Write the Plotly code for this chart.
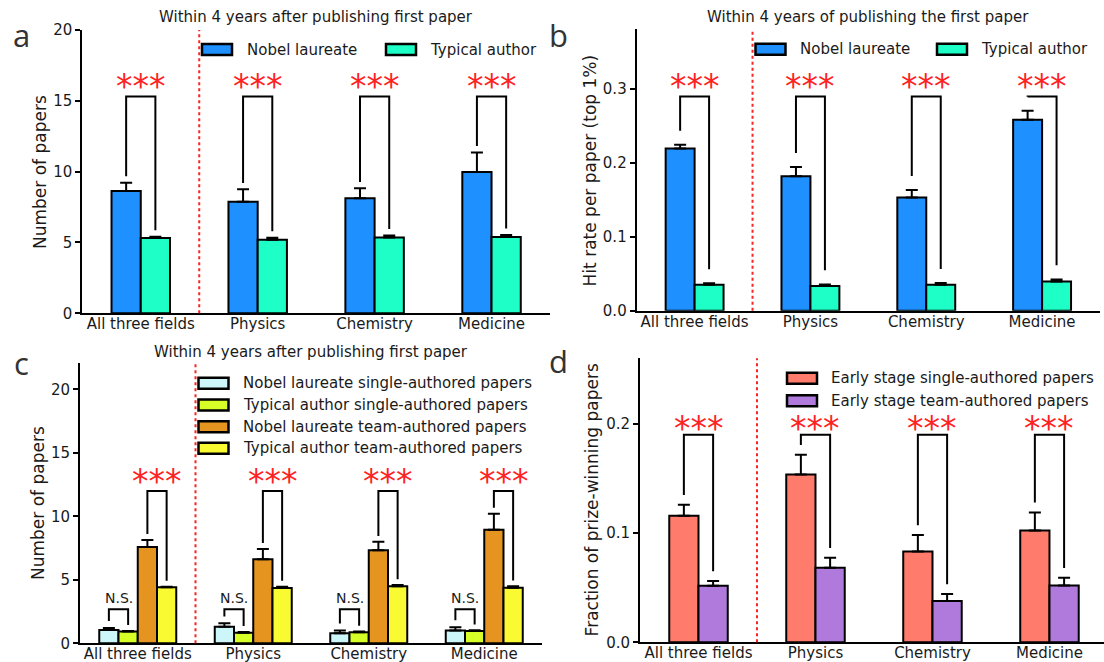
import plotly.graph_objects as go

W, H = 1104, 662

categories = ["All three fields", "Physics", "Chemistry", "Medicine"]

# Panel a: number of papers within 4 years
a_nobel = [8.64, 7.88, 8.12, 9.98]
a_nobel_err = [0.58, 0.87, 0.70, 1.38]
a_typical = [5.32, 5.20, 5.36, 5.39]
a_typical_err = [0.09, 0.14, 0.14, 0.14]

# Panel b: hit rate per paper (top 1%)
b_nobel = [0.2197, 0.1822, 0.1534, 0.2585]
b_nobel_err = [0.0049, 0.0122, 0.0099, 0.0121]
b_typical = [0.0352, 0.0334, 0.0352, 0.0397]
b_typical_err = [0.0018, 0.0022, 0.0022, 0.0027]

# Panel c: single vs team authored
c_nl_single = [1.05, 1.31, 0.79, 1.00]
c_nl_single_err = [0.15, 0.26, 0.21, 0.26]
c_ta_single = [0.92, 0.84, 0.87, 0.97]
c_ta_single_err = [0.05, 0.05, 0.05, 0.05]
c_nl_team = [7.59, 6.61, 7.32, 8.95]
c_nl_team_err = [0.55, 0.82, 0.68, 1.26]
c_ta_team = [4.41, 4.36, 4.49, 4.38]
c_ta_team_err = [0.05, 0.10, 0.10, 0.11]

# Panel d: fraction of prize-winning papers
d_single = [0.1159, 0.1537, 0.0832, 0.1024]
d_single_err = [0.0100, 0.0179, 0.0150, 0.0165]
d_team = [0.0518, 0.0683, 0.0378, 0.0521]
d_team_err = [0.0043, 0.0091, 0.0064, 0.0070]

titles = ["Within 4 years after publishing first paper",
          "Within 4 years of publishing the first paper",
          "Within 4 years after publishing first paper"]
ylabels = ["Number of papers", "Hit rate per paper (top 1%)",
           "Number of papers", "Fraction of prize-winning papers"]

FONT = "DejaVu Sans"
TXT = "#1a1a1a"
BLUE = "#1E90FF"
MINT = "#1DFFC6"
CYAN = "#CDF6FB"
LIME = "#D5FF26"
ORANGE = "#E59420"
YELLOW = "#FAFA32"
SALMON = "#FF7B6B"
PURPLE = "#AF7ADC"
RED = "#FF2222"


def px(x):
    return x / W


def py(y):
    return 1 - y / H


# axis geometry (pixels)
geo = {
    "a": dict(x0=82.3, x1=550, y0=313.3, y1=30.0, yr=[0, 20], xr=[-0.5, 3.5]),
    "b": dict(x0=636.7, x1=1100, y0=310.7, y1=29.3, yr=[0, 0.381], xr=[-0.5, 3.5]),
    "c": dict(x0=80, x1=542, y0=643.3, y1=362.7, yr=[0, 22.1], xr=[-0.5, 3.5]),
    "d": dict(x0=640, x1=1104, y0=642.3, y1=358.3, yr=[0, 0.26], xr=[-0.5, 3.466]),
}
names = {"a": ("x", "y"), "b": ("x2", "y2"), "c": ("x3", "y3"), "d": ("x4", "y4")}

fig = go.Figure()
xs = list(range(len(categories)))


def add_bars(panel, vals, errs, color, width, offset):
    xa, ya = names[panel]
    fig.add_trace(go.Bar(
        x=xs, y=vals, width=width, offset=offset,
        marker=dict(color=color, line=dict(color="black", width=2)),
        error_y=dict(type="data", array=errs, arrayminus=[0] * len(errs), symmetric=False,
                     color="black", thickness=2, width=6),
        xaxis=xa, yaxis=ya, showlegend=False, hoverinfo="skip"))


add_bars("a", a_nobel, a_nobel_err, BLUE, 0.25, -0.25)
add_bars("a", a_typical, a_typical_err, MINT, 0.25, 0.0)
add_bars("b", b_nobel, b_nobel_err, BLUE, 0.25, -0.25)
add_bars("b", b_typical, b_typical_err, MINT, 0.25, 0.0)
w6 = 1 / 6
add_bars("c", c_nl_single, c_nl_single_err, CYAN, w6, -2 * w6)
add_bars("c", c_ta_single, c_ta_single_err, LIME, w6, -w6)
add_bars("c", c_nl_team, c_nl_team_err, ORANGE, w6, 0.0)
add_bars("c", c_ta_team, c_ta_team_err, YELLOW, w6, w6)
add_bars("d", d_single, d_single_err, SALMON, 0.25, -0.25)
add_bars("d", d_team, d_team_err, PURPLE, 0.25, 0.0)

shapes = []
annotations = []

# axes layout
layout = dict(template="none", width=W, height=H, margin=dict(l=0, r=0, t=0, b=0, pad=0),
              plot_bgcolor="white", paper_bgcolor="white", barmode="overlay",
              font=dict(family=FONT, color=TXT))
ytick_cfg = {
    "a": dict(tickvals=[0, 5, 10, 15, 20], ticktext=["0", "5", "10", "15", "20"]),
    "b": dict(tickvals=[0, 0.1, 0.2, 0.3], ticktext=["0.0", "0.1", "0.2", "0.3"]),
    "c": dict(tickvals=[0, 5, 10, 15, 20], ticktext=["0", "5", "10", "15", "20"]),
    "d": dict(tickvals=[0, 0.1, 0.2], ticktext=["0.0", "0.1", "0.2"]),
}
for i, p in enumerate(["a", "b", "c", "d"]):
    g = geo[p]
    sx = "" if i == 0 else str(i + 1)
    layout["xaxis" + sx] = dict(
        domain=[px(g["x0"]), px(g["x1"])], range=g["xr"], anchor="y" + sx,
        tickvals=xs, ticktext=categories, ticks="", showline=True, linecolor="black",
        linewidth=2, showgrid=False, zeroline=False, fixedrange=True, automargin=False,
        ticklabelstandoff=-4,
        tickfont=dict(size=15, family=FONT, color=TXT))
    layout["yaxis" + sx] = dict(
        domain=[py(g["y0"]), py(g["y1"])], range=g["yr"], anchor="x" + sx,
        ticks="outside", ticklen=5, tickwidth=2, tickcolor="black",
        showline=True, linecolor="black", linewidth=2, showgrid=False, zeroline=False,
        fixedrange=True, automargin=False,
        tickfont=dict(size=15, family=FONT, color=TXT), **ytick_cfg[p])
    xa, ya = names[p]
    # red dotted separator
    shapes.append(dict(type="line", xref=xa, yref=ya + " domain", x0=0.5, x1=0.5, y0=0, y1=1,
                       line=dict(color=RED, width=2, dash="dot")))


def bracket(panel, xl, xr, bl, br, top, label, label_y, star=True):
    xa, ya = names[panel]
    shapes.append(dict(type="path", xref=xa, yref=ya,
                       path=f"M {xl} {bl} L {xl} {top} L {xr} {top} L {xr} {br}",
                       line=dict(color="black", width=2)))
    if star:
        annotations.append(dict(xref=xa, yref=ya, x=(xl + xr) / 2, y=label_y, text=label,
                                showarrow=False, yanchor="middle", yshift=-5,
                                font=dict(size=33, family=FONT, color=RED)))
    else:
        annotations.append(dict(xref=xa, yref=ya, x=(xl + xr) / 2, y=label_y, text=label,
                                showarrow=False, yanchor="middle",
                                font=dict(size=14, family=FONT, color=TXT)))


for k in xs:
    bracket("a", k - 0.125, k + 0.125, a_nobel[k] + a_nobel_err[k] + 0.45,
            a_typical[k] + a_typical_err[k] + 0.45, 15.3, "***", 16.35)
    bracket("b", k - 0.125, k + 0.125, b_nobel[k] + b_nobel_err[k] + 0.019,
            b_typical[k] + b_typical_err[k] + 0.019, 0.29, "***", 0.31)
    bracket("c", k + w6 / 2, k + 1.5 * w6, c_nl_team[k] + c_nl_team_err[k] + 0.46,
            c_ta_team[k] + c_ta_team_err[k] + 0.46, 12.0, "***", 13.12)
    bracket("c", k - 1.5 * w6, k - w6 / 2, c_nl_single[k] + c_nl_single_err[k] + 0.55,
            c_ta_single[k] + c_ta_single_err[k] + 0.47, 2.68, "N.S.", 3.54, star=False)
    bracket("d", k - 0.125, k + 0.125, d_single[k] + d_single_err[k] + 0.009,
            d_team[k] + d_team_err[k] + 0.009, 0.19, "***", 0.2003)

# subplot titles
for (cx, cy), t in zip([(316, 17), (868, 17), (311, 352)], titles):
    annotations.append(dict(xref="paper", yref="paper", x=px(cx), y=py(cy), text=t,
                            showarrow=False, xanchor="center", yanchor="middle",
                            font=dict(size=15, family=FONT, color=TXT)))

# y axis titles
for (cx, cy), t in zip([(39.5, 172.5), (589.6, 170.8), (38, 503), (592.4, 500)], ylabels):
    annotations.append(dict(xref="paper", yref="paper", x=px(cx), y=py(cy), text=t,
                            showarrow=False, textangle=-90, xanchor="center", yanchor="middle",
                            font=dict(size=17, family=FONT, color=TXT)))

# panel letters
for (cx, cy), t in zip([(21.5, 35), (558, 35), (21, 363), (558, 361)], ["a", "b", "c", "d"]):
    annotations.append(dict(xref="paper", yref="paper", x=px(cx), y=py(cy), text=t,
                            showarrow=False, xanchor="center", yanchor="middle",
                            font=dict(size=31, family="Open Sans", color="#333333")))


# legends (swatch rectangles + labels)
def legend_item(x0, yc, color, label, tx):
    shapes.append(dict(type="rect", xref="paper", yref="paper", x0=px(x0), x1=px(x0 + 30),
                       y0=py(yc + 5.5), y1=py(yc - 5.5), fillcolor=color,
                       line=dict(color="black", width=2.5)))
    annotations.append(dict(xref="paper", yref="paper", x=px(tx), y=py(yc), text=label,
                            showarrow=False, xanchor="left", yanchor="middle",
                            font=dict(size=15, family=FONT, color=TXT)))


legend_item(202, 49.5, BLUE, "Nobel laureate", 245)
legend_item(386, 49.5, MINT, "Typical author", 428)
legend_item(755.5, 49.2, BLUE, "Nobel laureate", 797.7)
legend_item(937, 49.2, MINT, "Typical author", 979.3)
c_leg = ["Nobel laureate single-authored papers", "Typical author single-authored papers",
         "Nobel laureate team-authored papers", "Typical author team-authored papers"]
for yc, col, lab in zip([383.3, 405, 426.7, 448.3], [CYAN, LIME, ORANGE, YELLOW], c_leg):
    legend_item(198.5, yc, col, lab, 241)
d_leg = ["Early stage single-authored papers", "Early stage team-authored papers"]
for yc, col, lab in zip([378.3, 400.7], [SALMON, PURPLE], d_leg):
    legend_item(787, yc, col, lab, 829)

layout["shapes"] = shapes
layout["annotations"] = annotations
fig.update_layout(**layout)

fig.write_html("out.html", config={"displayModeBar": False},
               post_script="document.body.style.margin='0';")
